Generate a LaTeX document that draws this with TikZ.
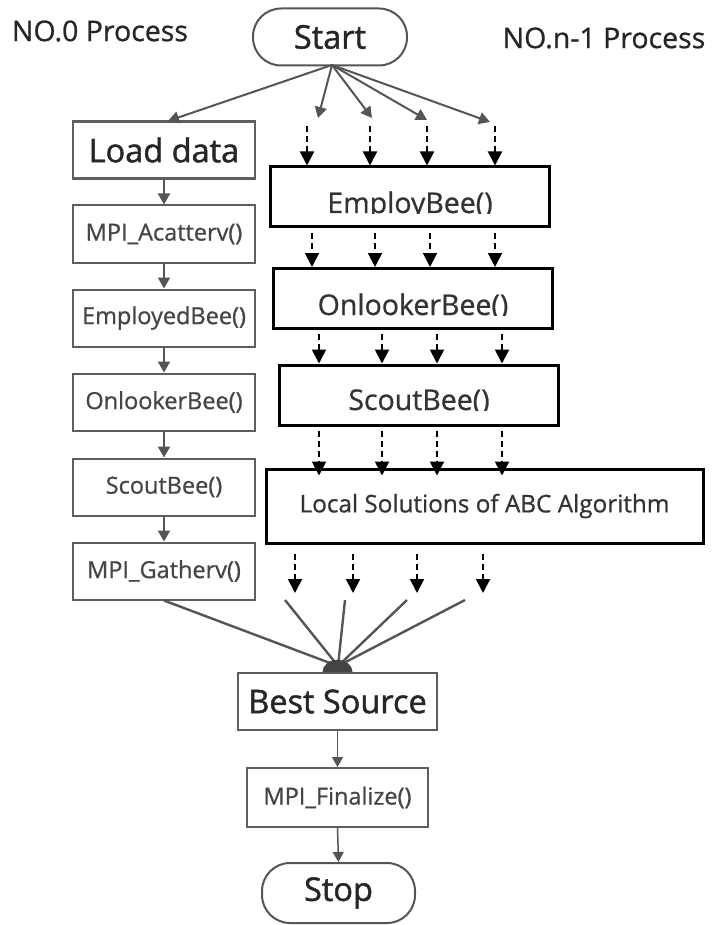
\documentclass[tikz,border=0pt]{standalone}
\usepackage{fontspec}
\setmainfont{Open Sans}
\newfontfamily\heavyfont[FakeBold=1.4]{Open Sans}
\newfontfamily\midfont[FakeBold=0.8]{Open Sans}
\usetikzlibrary{arrows.meta}
\definecolor{linegray}{HTML}{555555}
\definecolor{boxgray}{HTML}{5E5E5E}
\definecolor{txtgray}{HTML}{454545}
\begin{document}
\begin{tikzpicture}[x=1pt,y=-1pt,
  lbl/.style={inner sep=0pt,font=\midfont\fontsize{28.5}{30}\selectfont,text=black!85},
  pill/.style={draw=linegray,line width=2pt,rounded corners=28pt,inner sep=0pt,
    font=\heavyfont\fontsize{32.5}{34}\selectfont,text=black!85},
  lbox/.style={draw=boxgray,line width=2pt,inner sep=0pt,minimum width=182pt,
    minimum height=57pt,font=\midfont\fontsize{23.5}{26}\selectfont,text=txtgray},
  bigbox/.style={draw=boxgray,line width=2.2pt,inner sep=0pt,
    font=\heavyfont\fontsize{32.5}{34}\selectfont,text=black!85},
  rbox/.style={draw=black,line width=3pt,inner sep=0pt,minimum width=279pt,minimum height=60pt},
  rtext/.style={inner sep=0pt,anchor=base,font=\midfont\fontsize{28.5}{30}\selectfont,text=black!80},
  garrow/.style={draw=linegray,line width=2pt,-{Triangle[width=12pt,length=11pt]}},
  thinarrow/.style={draw=linegray,line width=1.5pt,-{Triangle[width=11pt,length=10pt]}},
  darrow/.style={draw=black,line width=2pt,dash pattern=on 6pt off 4pt,
    -{Triangle[width=14pt,length=14pt]}},
  joinline/.style={draw=linegray,line width=2.4pt},
]
\useasboundingbox (0,0) rectangle (712,925);

% headings
\node[lbl] (h0) at (100,31) {NO.0 Process};
\node[lbl] (h1) at (604,38) {NO.n-1 Process};

% start / stop terminals
\node[pill,minimum width=154pt,minimum height=57pt] (start) at (330,37) {Start};
\node[pill,minimum width=153pt,minimum height=60pt] (stop) at (338.5,893) {Stop};

% process 0 column
\node[bigbox,minimum width=182pt,minimum height=57pt] (load) at (164,150) {Load data};
\node[lbox] (acat) at (164,234) {MPI\_Acatterv()};
\node[lbox] (emp) at (164,318) {EmployedBee()};
\node[lbox] (onl) at (164,402) {OnlookerBee()};
\node[lbox] (sco) at (164,487) {ScoutBee()};
\node[lbox] (gat) at (164,571) {MPI\_Gatherv()};

\foreach \a/\b in {load/acat,acat/emp,emp/onl,onl/sco,sco/gat}
  \draw[garrow] (\a.south) -- (\b.north);

% process n-1 column
\node[rbox] (ebee) at (409.5,197) {};
\node[rbox] (obee) at (412.5,298.5) {};
\node[rbox] (sbee) at (418.5,395) {};
\node[rbox,minimum width=437pt,minimum height=74pt,
  font=\midfont\fontsize{24.3}{26}\selectfont,text=black!80] (local) at (484.5,506)
  {Local Solutions of ABC Algorithm};

% labels cut off at their baseline
\begin{scope}
  \clip (280,150) rectangle (540,213.5);
  \node[rtext] (ebeetxt) at (410,213) {EmployBee()};
\end{scope}
\begin{scope}
  \clip (283,270) rectangle (545,315.5);
  \node[rtext] (obeetxt) at (413,315) {OnlookerBee()};
\end{scope}
\begin{scope}
  \clip (290,367) rectangle (550,410.5);
  \node[rtext] (sbeetxt) at (419,410) {ScoutBee()};
\end{scope}

% start fans out
\coordinate (fan) at (332,65);
\draw[garrow] (fan) -- (168,121);
\foreach \x/\y [count=\i] in {318/118,372/118,427/120,490/122}{
  \coordinate (s\i) at (\x,\y);
  \draw[garrow] (fan) -- (s\i);
}

% dashed transfers between the stages
\foreach \x [count=\i] in {307,370,427,495}{
  \coordinate (d\i) at (\x,126);
  \draw[darrow] (d\i) -- (d\i |- ebee.north);
}
\foreach \x in {312,375,430,495}
  \draw[darrow] (\x,0 |- ebee.south) ++(0,4) -- (\x,0 |- obee.north);
\foreach \x in {319,382,437,502}
  \draw[darrow] (\x,0 |- obee.south) ++(0,4) -- (\x,0 |- sbee.north);
\foreach \x in {319,382,437,502}
  \draw[darrow] (\x,0 |- sbee.south) ++(0,4) -- ([yshift=-8pt]\x,0 |- local.north);
\foreach \x [count=\i] in {295,353,417,483}{
  \coordinate (e\i) at (\x,593);
  \draw[darrow] (\x,0 |- local.south) ++(0,9) -- (e\i);
}

% gathering into the best source
\node[bigbox,minimum width=199pt,minimum height=57pt] (best) at (337.5,701.5) {Best Source};
\coordinate (meet) at (338,666);
\draw[joinline] (gat.south) -- (meet);
\foreach \x [count=\i] in {285,345,407,465}{
  \coordinate (g\i) at (\x,600);
  \draw[joinline] (g\i) -- (meet);
}
\fill[linegray!80!black] ([xshift=-15pt]best.north) arc[start angle=180,end angle=0,
  x radius=15pt,y radius=12pt] -- cycle;

\node[lbox,minimum width=181pt,minimum height=59pt] (fin) at (337.5,797.5) {MPI\_Finalize()};
\draw[thinarrow] (best.south) -- (fin.north);
\draw[thinarrow] (fin.south) -- (stop.north);
\end{tikzpicture}
\end{document}
